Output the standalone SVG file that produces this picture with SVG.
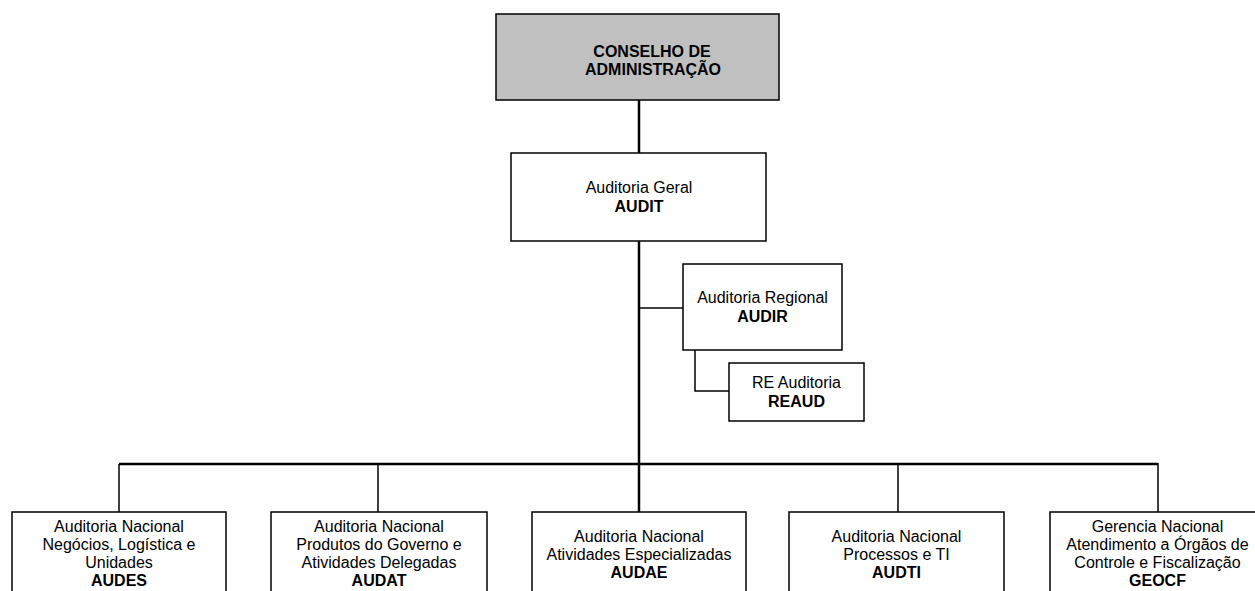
<svg xmlns="http://www.w3.org/2000/svg" width="1255" height="591" viewBox="0 0 1255 591">
<style>
.box{fill:#ffffff;stroke:#000;stroke-width:1.5}
.gray{fill:#c0c0c0;stroke:#000;stroke-width:1.5}
.t{font-family:"Liberation Sans",Arial,sans-serif;font-size:16px;fill:#000;text-anchor:middle}
.b{font-weight:bold}
.c{fill:none;stroke:#000;stroke-width:1.5}
.ck{fill:none;stroke:#000;stroke-width:2.5}
</style>
<rect width="1255" height="591" fill="#ffffff"/>
<g id="connectors">
<line class="ck" x1="639" y1="100" x2="639" y2="153"/>
<line class="ck" x1="639" y1="241" x2="639" y2="464"/>
<line class="c" x1="639" y1="308" x2="683" y2="308"/>
<polyline class="c" points="695,350 695,391 729,391"/>
<line class="ck" x1="119" y1="464" x2="1158" y2="464"/>
<line class="c" x1="119" y1="464" x2="119" y2="512"/>
<line class="c" x1="378" y1="464" x2="378" y2="512"/>
<line class="ck" x1="639" y1="464" x2="639" y2="512"/>
<line class="c" x1="898" y1="464" x2="898" y2="512"/>
<line class="c" x1="1158" y1="463" x2="1158" y2="512"/>
</g>
<g id="conselho">
<rect class="gray" x="496" y="14" width="283" height="86"/>
<text class="t b" x="652" y="57">CONSELHO DE</text>
<text class="t b" x="653" y="75">ADMINISTRAÇÃO</text>
</g>
<g id="audit">
<rect class="box" x="511" y="153" width="255" height="88"/>
<text class="t" x="639" y="193">Auditoria Geral</text>
<text class="t b" x="639" y="212">AUDIT</text>
</g>
<g id="audir">
<rect class="box" x="683" y="264" width="159" height="86"/>
<text class="t" x="762.5" y="303">Auditoria Regional</text>
<text class="t b" x="762.5" y="322">AUDIR</text>
</g>
<g id="reaud">
<rect class="box" x="729" y="363" width="135" height="58"/>
<text class="t" x="796.5" y="388">RE Auditoria</text>
<text class="t b" x="796.5" y="407">REAUD</text>
</g>
<g id="audes">
<rect class="box" x="12" y="512" width="214" height="90"/>
<text class="t" x="119" y="532">Auditoria Nacional</text>
<text class="t" x="119" y="550">Negócios, Logística e</text>
<text class="t" x="119" y="568">Unidades</text>
<text class="t b" x="119" y="586">AUDES</text>
</g>
<g id="audat">
<rect class="box" x="271" y="512" width="216" height="90"/>
<text class="t" x="379" y="532">Auditoria Nacional</text>
<text class="t" x="379" y="550">Produtos do Governo e</text>
<text class="t" x="379" y="568">Atividades Delegadas</text>
<text class="t b" x="379" y="586">AUDAT</text>
</g>
<g id="audae">
<rect class="box" x="532" y="512" width="214" height="90"/>
<text class="t" x="639" y="542">Auditoria Nacional</text>
<text class="t" x="639" y="560">Atividades Especializadas</text>
<text class="t b" x="639" y="578">AUDAE</text>
</g>
<g id="audti">
<rect class="box" x="789" y="512" width="215" height="90"/>
<text class="t" x="896.5" y="542">Auditoria Nacional</text>
<text class="t" x="896.5" y="560">Processos e TI</text>
<text class="t b" x="896.5" y="578">AUDTI</text>
</g>
<g id="geocf">
<rect class="box" x="1050" y="512" width="215" height="90"/>
<text class="t" x="1157.5" y="532">Gerencia Nacional</text>
<text class="t" x="1157.5" y="550">Atendimento a Órgãos de</text>
<text class="t" x="1157.5" y="568">Controle e Fiscalização</text>
<text class="t b" x="1157.5" y="586">GEOCF</text>
</g>
</svg>
